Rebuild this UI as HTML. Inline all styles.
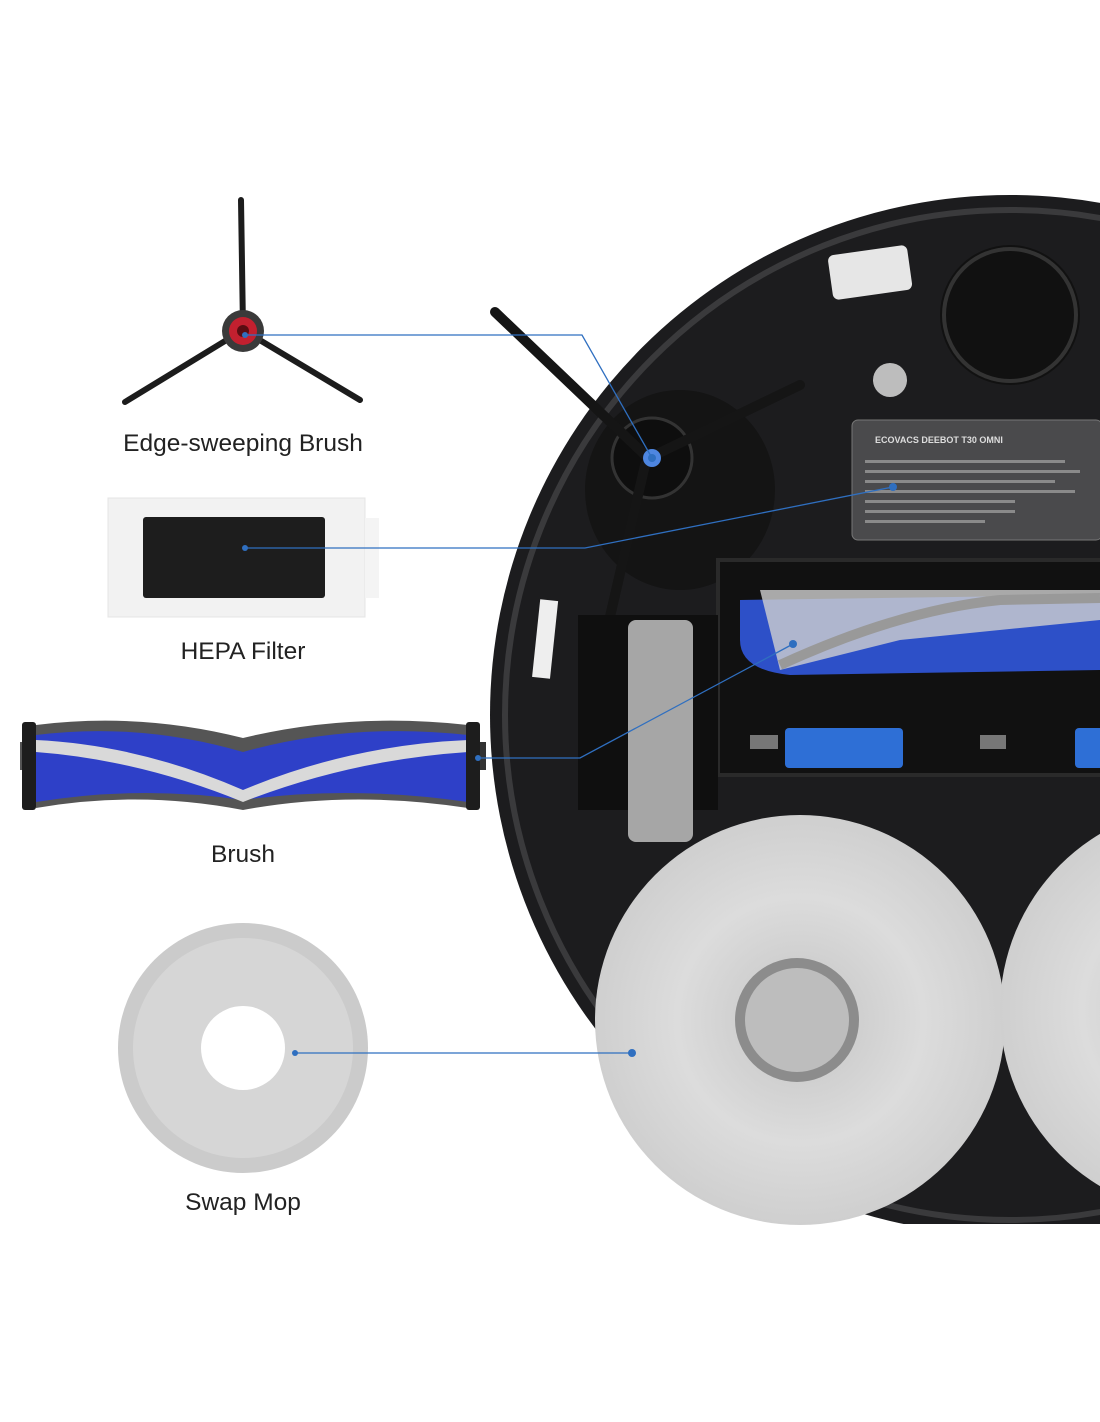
<!DOCTYPE html>
<html><head><meta charset="utf-8"><style>
html,body{margin:0;padding:0;background:#fff;}
svg{display:block}
text{font-family:"Liberation Sans",sans-serif;}
</style></head><body>
<svg width="1100" height="1422" viewBox="0 0 1100 1422" xmlns="http://www.w3.org/2000/svg">
<defs>
<radialGradient id="mop" cx="0.5" cy="0.5" r="0.5"><stop offset="0" stop-color="#c4c4c4"/><stop offset="0.6" stop-color="#dcdcdc"/><stop offset="1" stop-color="#cfcfcf"/></radialGradient>
</defs>
<!-- robot body -->
<circle cx="1010" cy="715" r="520" fill="#1c1c1e"/>
<circle cx="1010" cy="715" r="505" fill="none" stroke="#3a3a3c" stroke-width="6"/>
<circle cx="1010" cy="315" r="70" fill="#111"/>
<circle cx="1010" cy="315" r="66" fill="none" stroke="#333" stroke-width="4"/>
<rect x="830" y="250" width="80" height="45" rx="6" fill="#e6e6e6" transform="rotate(-8 870 272)"/>
<circle cx="890" cy="380" r="17" fill="#bdbdbd"/>
<ellipse cx="680" cy="490" rx="95" ry="100" fill="#141414"/>
<circle cx="652" cy="458" r="40" fill="#0e0e0e" stroke="#333" stroke-width="3"/>
<path d="M495 312 L645 455" stroke="#151515" stroke-width="10" stroke-linecap="round"/>
<path d="M655 455 L800 385" stroke="#151515" stroke-width="10" stroke-linecap="round"/>
<path d="M645 465 L600 660" stroke="#151515" stroke-width="10" stroke-linecap="round"/>
<circle cx="652" cy="458" r="9" fill="#4e86e0"/>
<rect x="852" y="420" width="250" height="120" rx="6" fill="#4a4a4c" stroke="#777"/>
<text x="875" y="443" font-size="9" fill="#ddd" font-weight="bold">ECOVACS  DEEBOT T30 OMNI</text>
<g fill="#8a8a8a"><rect x="865" y="460" width="200" height="3"/><rect x="865" y="470" width="215" height="3"/><rect x="865" y="480" width="190" height="3"/><rect x="865" y="490" width="210" height="3"/><rect x="865" y="500" width="150" height="3"/><rect x="865" y="510" width="150" height="3"/><rect x="865" y="520" width="120" height="3"/></g>
<rect x="718" y="560" width="400" height="215" fill="#111" stroke="#2a2a2a" stroke-width="4"/>
<path d="M740 600 L1100 595 L1100 670 L790 675 Q740 670 740 640 Z" fill="#2d50c8"/>
<path d="M760 590 L1100 590 L1100 620 L900 640 L780 670 Z" fill="#d0d0d0" opacity="0.8"/>
<path d="M780 665 Q900 610 1000 600 L1100 598" stroke="#999" stroke-width="10" fill="none"/>
<rect x="785" y="728" width="118" height="40" rx="4" fill="#2e6fd6"/>
<rect x="1075" y="728" width="30" height="40" rx="4" fill="#2e6fd6"/>
<rect x="750" y="735" width="28" height="14" fill="#777"/>
<rect x="980" y="735" width="26" height="14" fill="#777"/>
<rect x="578" y="615" width="140" height="195" fill="#0f0f0f"/>
<rect x="628" y="620" width="65" height="222" rx="8" fill="#a6a6a6"/>
<rect x="536" y="600" width="18" height="78" fill="#eee" transform="rotate(6 545 640)"/>
<rect x="480" y="1224" width="620" height="30" fill="#fff"/>
<!-- mops -->
<circle cx="800" cy="1020" r="205" fill="url(#mop)"/>
<circle cx="1205" cy="1010" r="205" fill="url(#mop)"/>
<circle cx="797" cy="1020" r="62" fill="#8c8c8c"/>
<circle cx="797" cy="1020" r="52" fill="#bdbdbd"/>

<!-- side brush -->
<g stroke="#1c1c1c" stroke-linecap="round">
<path d="M243 328 L241 200" stroke-width="6"/>
<path d="M243 330 L125 402" stroke-width="6"/>
<path d="M243 330 L360 400" stroke-width="6"/>
</g>
<circle cx="243" cy="331" r="21" fill="#3a3a3a"/>
<circle cx="243" cy="331" r="14" fill="#c2202f"/>
<circle cx="243" cy="331" r="6" fill="#5a0d12"/>
<text x="243" y="451" font-size="24.5" fill="#222" text-anchor="middle">Edge-sweeping Brush</text>
<rect x="108" y="498" width="257" height="119" fill="#f2f2f2" stroke="#e4e4e4"/>
<rect x="365" y="518" width="14" height="80" fill="#f4f4f4"/>
<rect x="143" y="517" width="182" height="81" rx="3" fill="#1d1d1d"/>
<text x="243" y="659" font-size="24.5" fill="#222" text-anchor="middle">HEPA Filter</text>
<rect x="20" y="742" width="18" height="28" fill="#555"/>
<rect x="470" y="742" width="16" height="28" fill="#333"/>
<path d="M36 725 Q140 712 243 738 Q350 712 468 725 L468 808 Q350 790 243 810 Q140 790 36 808 Z" fill="#555"/>
<path d="M36 735 Q140 722 243 752 Q350 722 468 735 L468 802 Q350 785 243 800 Q140 785 36 802 Z" fill="#2e40c8"/>
<path d="M36 740 Q140 745 243 790 Q350 745 468 740 L468 752 Q350 760 243 802 Q140 760 36 752 Z" fill="#d9d9d9"/>
<rect x="22" y="722" width="14" height="88" rx="3" fill="#1d1d1d"/>
<rect x="466" y="722" width="14" height="88" rx="3" fill="#1d1d1d"/>
<text x="243" y="862" font-size="24.5" fill="#222" text-anchor="middle">Brush</text>
<circle cx="243" cy="1048" r="125" fill="#cbcbcb"/>
<circle cx="243" cy="1048" r="110" fill="#d6d6d6"/>
<circle cx="243" cy="1048" r="42" fill="#fff"/>
<text x="243" y="1210" font-size="24.5" fill="#222" text-anchor="middle">Swap Mop</text>

<g stroke="#2f6fc0" stroke-width="1.3" fill="none">
<path d="M245 335 L582 335 L652 458"/>
<path d="M245 548 L585 548 L893 487"/>
<path d="M478 758 L580 758 L793 644"/>
<path d="M295 1053 L632 1053"/>
</g>
<g fill="#2f6fc0">
<circle cx="245" cy="335" r="3"/><circle cx="652" cy="458" r="4"/>
<circle cx="245" cy="548" r="3"/><circle cx="893" cy="487" r="4"/>
<circle cx="478" cy="758" r="3"/><circle cx="793" cy="644" r="4"/>
<circle cx="295" cy="1053" r="3"/><circle cx="632" cy="1053" r="4"/>
</g>
</svg>
</body></html>
